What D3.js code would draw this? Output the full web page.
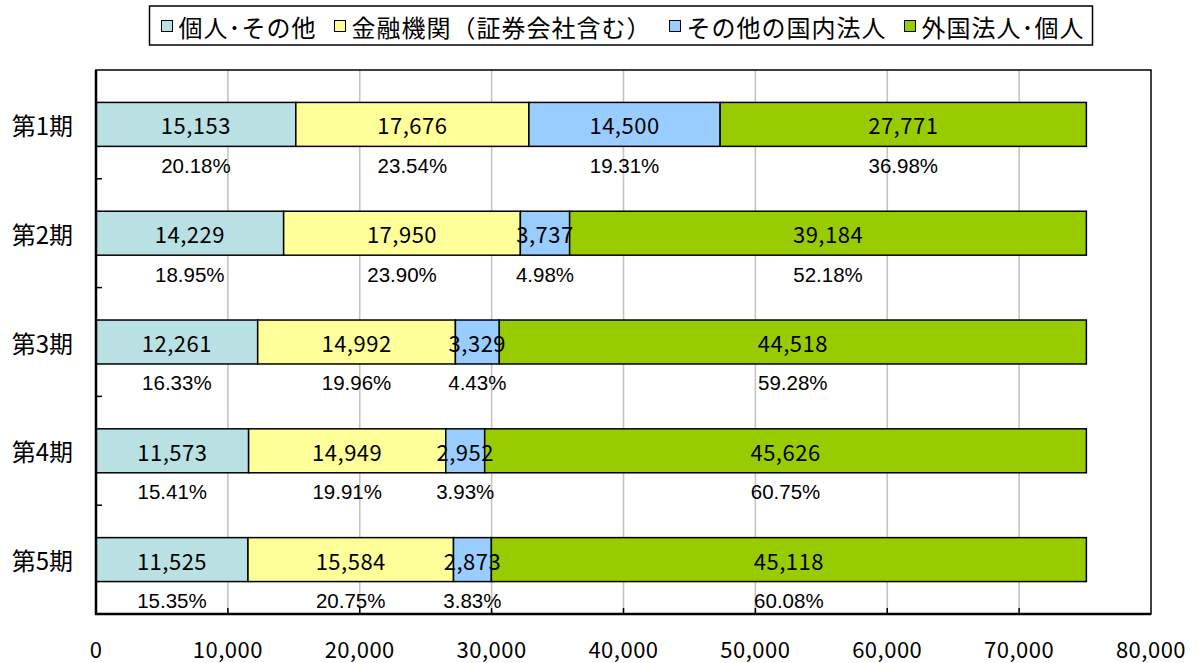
<!DOCTYPE html>
<html>
<head>
<meta charset="utf-8">
<script src="https://cdn.jsdelivr.net/npm/d3@7"></script>
<style>
  body { margin: 0; background: #fff; }
  svg { display: block; }
</style>
</head>
<body>
<svg id="chart" width="1198" height="663"></svg>
<script>
// data
const categories = ['第1期', '第2期', '第3期', '第4期', '第5期'];
const seriesNames = ['個人･その他', '金融機関（証券会社含む）', 'その他の国内法人', '外国法人･個人'];
const kojin   = [15153, 14229, 12261, 11573, 11525];
const kinyu   = [17676, 17950, 14992, 14949, 15584];
const kokunai = [14500,  3737,  3329,  2952,  2873];
const gaikoku = [27771, 39184, 44518, 45626, 45118];
const pctKojin   = ['20.18%', '18.95%', '16.33%', '15.41%', '15.35%'];
const pctKinyu   = ['23.54%', '23.90%', '19.96%', '19.91%', '20.75%'];
const pctKokunai = ['19.31%', '4.98%', '4.43%', '3.93%', '3.83%'];
const pctGaikoku = ['36.98%', '52.18%', '59.28%', '60.75%', '60.08%'];
const xTicks = [0, 10000, 20000, 30000, 40000, 50000, 60000, 70000, 80000];

const colors = ['#b9e0e2', '#ffff99', '#99ccff', '#99cc00'];
const keys = ['kojin', 'kinyu', 'kokunai', 'gaikoku'];
const pcts = [pctKojin, pctKinyu, pctKokunai, pctGaikoku];

let rows = categories.map((c, i) => ({
  cat: c, kojin: kojin[i], kinyu: kinyu[i], kokunai: kokunai[i], gaikoku: gaikoku[i]
}));

let svg = d3.select('#chart');
let pLeft = 96, pRight = 1151, pTop = 70, pBottom = 614;
let jp = '"Noto Sans CJK JP", sans-serif';

let x = d3.scaleLinear().domain([0, 80000]).range([pLeft, pRight]);
let y = d3.scaleBand().domain(categories).range([pTop, pBottom])
          .paddingInner(0.596).paddingOuter(0.298);

let stacked = d3.stack().keys(keys)(rows);

// gridlines
svg.append('g')
  .selectAll('line')
  .data(xTicks.slice(1, -1))
  .enter()
  .append('line')
  .attr('x1', d => x(d)).attr('x2', d => x(d))
  .attr('y1', pTop).attr('y2', pBottom)
  .attr('stroke', '#c4c4c4')
  .attr('stroke-width', 1.6);

// plot frame
svg.append('rect')
  .attr('x', pLeft).attr('y', pTop)
  .attr('width', pRight - pLeft).attr('height', pBottom - pTop)
  .attr('fill', 'none')
  .attr('stroke', '#000')
  .attr('stroke-width', 1.5);

// bars
svg.selectAll('g.layer')
  .data(stacked)
  .enter()
  .append('g')
  .attr('class', 'layer')
  .attr('fill', (d, i) => colors[i])
  .selectAll('rect')
  .data(d => d)
  .enter()
  .append('rect')
  .attr('x', d => x(d[0]))
  .attr('y', d => y(d.data.cat))
  .attr('width', d => x(d[1]) - x(d[0]))
  .attr('height', y.bandwidth())
  .attr('stroke', '#000')
  .attr('stroke-width', 1.5);

// labels drawn after all bars so overflowing text stays visible
let labels = svg.selectAll('g.labels')
  .data(stacked)
  .enter()
  .append('g')
  .attr('class', 'labels');

labels.selectAll('text.val')
  .data(d => d)
  .enter()
  .append('text')
  .attr('class', 'val')
  .attr('x', d => (x(d[0]) + x(d[1])) / 2)
  .attr('y', d => y(d.data.cat) + y.bandwidth() / 2)
  .attr('text-anchor', 'middle')
  .attr('dominant-baseline', 'central')
  .attr('fill', '#000')
  .style('font-family', jp)
  .style('font-size', '22px')
  .style('letter-spacing', '0.5px')
  .text(d => d3.format(',')(d[1] - d[0]));

labels.selectAll('text.pct')
  .data((d, i) => d.map((s, j) => ({ s: s, p: pcts[i][j] })))
  .enter()
  .append('text')
  .attr('class', 'pct')
  .attr('x', d => (x(d.s[0]) + x(d.s[1])) / 2)
  .attr('y', d => y(d.s.data.cat) + y.bandwidth() + 19)
  .attr('text-anchor', 'middle')
  .attr('dominant-baseline', 'central')
  .attr('fill', '#000')
  .style('font-family', '"Liberation Sans", Arial, sans-serif')
  .style('font-size', '20.5px')
  .text(d => d.p);

// axis lines
svg.append('line')
  .attr('x1', pLeft).attr('x2', pLeft).attr('y1', pTop).attr('y2', pBottom + 1)
  .attr('stroke', '#000').attr('stroke-width', 2.5);
svg.append('line')
  .attr('x1', pLeft - 1).attr('x2', pRight).attr('y1', pBottom).attr('y2', pBottom)
  .attr('stroke', '#000').attr('stroke-width', 2.5);

// inner ticks on category axis (band boundaries)
svg.append('g')
  .selectAll('line')
  .data(categories.slice(1))
  .enter()
  .append('line')
  .attr('x1', pLeft).attr('x2', pLeft + 6)
  .attr('y1', d => y(d) - y.step() * y.paddingInner() / 2)
  .attr('y2', d => y(d) - y.step() * y.paddingInner() / 2)
  .attr('stroke', '#000').attr('stroke-width', 1.5);

// inner ticks on value axis
svg.append('g')
  .selectAll('line')
  .data(xTicks.slice(1, -1))
  .enter()
  .append('line')
  .attr('x1', d => x(d)).attr('x2', d => x(d))
  .attr('y1', pBottom).attr('y2', pBottom - 6)
  .attr('stroke', '#000').attr('stroke-width', 1.5);

// category labels
svg.append('g')
  .selectAll('text')
  .data(categories)
  .enter()
  .append('text')
  .attr('x', 73)
  .attr('y', d => y(d) + y.bandwidth() / 2)
  .attr('text-anchor', 'end')
  .attr('dominant-baseline', 'central')
  .style('font-family', jp)
  .style('font-size', '24px')
  .text(d => d);

// value tick labels
svg.append('g')
  .selectAll('text')
  .data(xTicks)
  .enter()
  .append('text')
  .attr('x', d => x(d))
  .attr('y', 658)
  .attr('text-anchor', 'middle')
  .style('font-family', jp)
  .style('font-size', '22px')
  .style('letter-spacing', '0.5px')
  .text(d => d3.format(',')(d));

// legend
let legend = svg.append('g');
let legendBox = legend.append('rect')
  .attr('fill', '#fff')
  .attr('stroke', '#000')
  .attr('stroke-width', 1.5);
let items = legend.selectAll('g.item')
  .data(seriesNames)
  .enter()
  .append('g')
  .attr('class', 'item');
items.append('rect')
  .attr('width', 11).attr('height', 11)
  .attr('y', -5.5)
  .attr('fill', (d, i) => colors[i])
  .attr('stroke', '#000')
  .attr('stroke-width', 1);
items.append('text')
  .attr('x', 17)
  .attr('dominant-baseline', 'central')
  .style('font-family', jp)
  .style('font-size', '24px')
  .style('letter-spacing', '1px')
  .text(d => d);
let cursor = 12;
items.each(function () {
  let w = d3.select(this).select('text').node().getComputedTextLength() + 17;
  d3.select(this).attr('transform', 'translate(' + cursor + ',0)');
  cursor += w + 18;
});
let legendW = cursor - 18 + 8;
let legendX = 621 - legendW / 2;
legend.attr('transform', 'translate(' + legendX + ',26)');
legendBox.attr('x', 0).attr('y', -20).attr('width', legendW).attr('height', 39);
</script>
</body>
</html>
